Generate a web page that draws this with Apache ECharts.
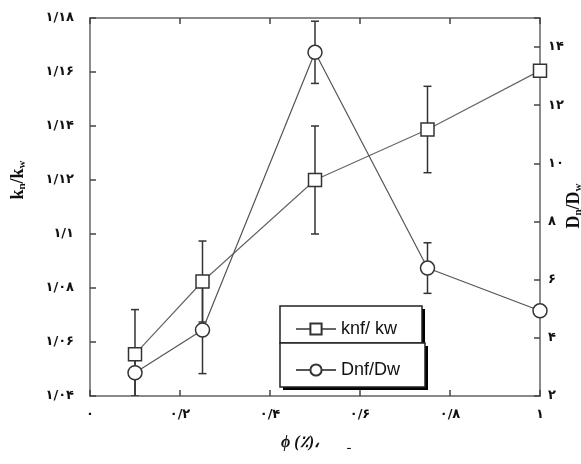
<!DOCTYPE html>
<html>
<head>
<meta charset="utf-8">
<script src="https://cdn.jsdelivr.net/npm/echarts@6/dist/echarts.min.js"></script>
<style>html,body{margin:0;padding:0;background:#fff;}#c{width:581px;height:464px;}</style>
</head>
<body>
<div id="c"></div>
<script>
const xValues = [0.1, 0.25, 0.5, 0.75, 1.0];
const knfKw = [1.0555, 1.0824, 1.12, 1.1387, 1.1605];
const knfKwErr = [0.0165, 0.015, 0.02, 0.016, 0];
const dnfDw = [2.8, 4.27, 13.82, 6.4, 4.93];
const dnfDwErr = [0.8, 1.5, 1.07, 0.87, 0];
const xTickLabels = ['۰', '۰/۲', '۰/۴', '۰/۶', '۰/۸', '۱'];
const leftTickLabels = ['۱/۰۴', '۱/۰۶', '۱/۰۸', '۱/۱', '۱/۱۲', '۱/۱۴', '۱/۱۶', '۱/۱۸'];
const rightTickLabels = ['۲', '۴', '۶', '۸', '۱۰', '۱۲', '۱۴'];
const seriesNames = ['knf/ kw', 'Dnf/Dw'];

const chart = echarts.init(document.getElementById('c'));
const G = {left: 90, right: 41, top: 18, bottom: 68};
const frameLine = {show: true, onZero: false, lineStyle: {color: '#8a8a8a', width: 2}};
const tickStyle = {show: true, inside: true, length: 6, lineStyle: {color: '#444', width: 1.5}};
const labelFont = {fontFamily: 'DejaVu Sans', fontWeight: 'bold', fontSize: 13, color: '#111'};

function errRender(params, api) {
  const x = api.value(0), y = api.value(1), e = api.value(2);
  if (!e) return null;
  const p1 = api.coord([x, y + e]);
  const p2 = api.coord([x, y - e]);
  const c = 4;
  const st = {stroke: '#333', lineWidth: 1.5};
  return {type: 'group', children: [
    {type: 'line', shape: {x1: p1[0], y1: p1[1], x2: p2[0], y2: p2[1]}, style: st},
    {type: 'line', shape: {x1: p1[0] - c, y1: p1[1], x2: p1[0] + c, y2: p1[1]}, style: st},
    {type: 'line', shape: {x1: p2[0] - c, y1: p2[1], x2: p2[0] + c, y2: p2[1]}, style: st}
  ]};
}

const option = {
  animation: false,
  backgroundColor: '#fff',
  grid: G,
  xAxis: [{
    type: 'value', min: 0, max: 1, interval: 0.2, position: 'bottom',
    axisLine: frameLine, axisTick: tickStyle, splitLine: {show: false},
    axisLabel: Object.assign({margin: 12, formatter: v => xTickLabels[Math.round(v / 0.2)] || ''}, labelFont)
  }, {
    type: 'value', min: 0, max: 1, interval: 0.2, position: 'top',
    axisLine: frameLine, axisTick: tickStyle, splitLine: {show: false}, axisLabel: {show: false}
  }],
  yAxis: [{
    type: 'value', min: 1.04, max: 1.18, interval: 0.02, position: 'left',
    axisLine: frameLine, axisTick: tickStyle, splitLine: {show: false},
    axisLabel: Object.assign({margin: 16, formatter: v => leftTickLabels[Math.round((v - 1.04) / 0.02)] || ''}, labelFont)
  }, {
    type: 'value', min: 2, max: 15, interval: 2, position: 'right',
    axisLine: frameLine, axisTick: tickStyle, splitLine: {show: false},
    axisLabel: Object.assign({margin: 8, formatter: v => (v > 14.5 ? '' : (rightTickLabels[Math.round((v - 2) / 2)] || ''))}, labelFont)
  }],
  legend: [{
    data: [seriesNames[0]], left: 290, top: 315, itemWidth: 40, itemHeight: 14, itemGap: 6,
    textStyle: {fontFamily: 'Liberation Sans', fontSize: 18, color: '#111'}, z: 10
  }, {
    data: [seriesNames[1]], left: 290, top: 356, itemWidth: 40, itemHeight: 14, itemGap: 6,
    textStyle: {fontFamily: 'Liberation Sans', fontSize: 18, color: '#111'}, z: 10
  }],
  graphic: [
    {type: 'rect', shape: {x: 283, y: 309, width: 142, height: 37}, style: {fill: '#000'}, z: 5},
    {type: 'rect', shape: {x: 280, y: 306, width: 142, height: 37}, style: {fill: '#fff', stroke: '#222', lineWidth: 1.5}, z: 6},
    {type: 'rect', shape: {x: 283, y: 346, width: 145, height: 44}, style: {fill: '#000'}, z: 5},
    {type: 'rect', shape: {x: 280, y: 343, width: 145, height: 44}, style: {fill: '#fff', stroke: '#222', lineWidth: 1.5}, z: 6},
    {type: 'text', x: 18, y: 180, rotation: Math.PI / 2, z: 10,
      style: {text: 'k{s|n}/k{s|w}', align: 'center', verticalAlign: 'middle', fill: '#111',
        font: 'bold 18px "Liberation Serif"',
        rich: {s: {fontSize: 11, fontWeight: 'bold', fontFamily: 'Liberation Serif', verticalAlign: 'bottom', padding: [8, 0, 0, 0]}}}},
    {type: 'text', x: 574, y: 206, rotation: Math.PI / 2, z: 10,
      style: {text: 'D{s|n}/D{s|w}', align: 'center', verticalAlign: 'middle', fill: '#111',
        font: 'bold 18px "Liberation Serif"',
        rich: {s: {fontSize: 11, fontWeight: 'bold', fontFamily: 'Liberation Serif', verticalAlign: 'bottom', padding: [8, 0, 0, 0]}}}},
    {type: 'text', x: 300, y: 443, z: 10,
      style: {text: 'ϕ (٪)،', align: 'center', verticalAlign: 'middle', fill: '#111', font: 'bold italic 16px "Liberation Serif"'}},
    {type: 'text', x: 349, y: 446, z: 10,
      style: {text: 'ـ', align: 'center', verticalAlign: 'middle', fill: '#111', font: '12px "DejaVu Sans"'}}
  ],
  series: [{
    type: 'custom', name: 'knfErr', xAxisIndex: 0, yAxisIndex: 0, clip: true, z: 1,
    renderItem: errRender,
    data: xValues.map((x, i) => [x, knfKw[i], knfKwErr[i]])
  }, {
    type: 'custom', name: 'dnfErr', xAxisIndex: 0, yAxisIndex: 1, clip: true, z: 1,
    renderItem: errRender,
    data: xValues.map((x, i) => [x, dnfDw[i], dnfDwErr[i]])
  }, {
    type: 'line', name: seriesNames[0], xAxisIndex: 0, yAxisIndex: 0, z: 3,
    symbol: 'rect', symbolSize: 13, showAllSymbol: true,
    lineStyle: {color: '#666', width: 1.2},
    itemStyle: {color: '#fff', borderColor: '#333', borderWidth: 1.5},
    data: xValues.map((x, i) => [x, knfKw[i]])
  }, {
    type: 'line', name: seriesNames[1], xAxisIndex: 0, yAxisIndex: 1, z: 3,
    symbol: 'circle', symbolSize: 14, showAllSymbol: true,
    lineStyle: {color: '#555', width: 1.2},
    itemStyle: {color: '#fff', borderColor: '#333', borderWidth: 1.5},
    data: xValues.map((x, i) => [x, dnfDw[i]])
  }]
};
chart.setOption(option);
</script>
</body>
</html>
